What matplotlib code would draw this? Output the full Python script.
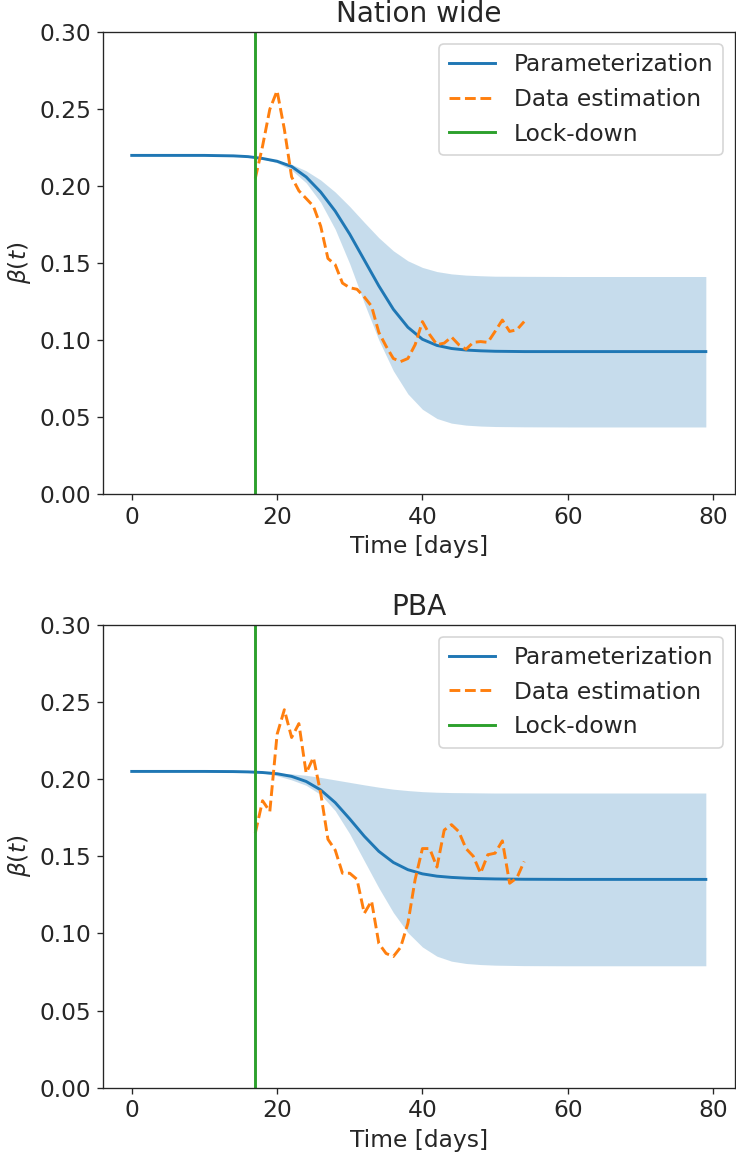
import numpy as np
import matplotlib
matplotlib.use('Agg')
import matplotlib.pyplot as plt

# Datos
lockdown_day = 17

# Curva parametrizada y banda (dias muestreados)
dias_fit = [0, 10, 14, 16, 18, 20, 22, 24, 26, 28, 30, 32, 34, 36, 38, 40, 42, 44, 46, 48, 50, 54, 60, 70, 79]

nacion_beta = [0.2200, 0.2200, 0.2197, 0.2192, 0.2180, 0.2162, 0.2128, 0.2060, 0.1962, 0.1838, 0.1688,
               0.1520, 0.1352, 0.1200, 0.1083, 0.1005, 0.0965, 0.0945, 0.0935, 0.0930, 0.0927, 0.0925,
               0.0925, 0.0925, 0.0925]
nacion_sup = [0.2200, 0.2200, 0.2197, 0.2192, 0.2182, 0.2167, 0.2142, 0.2100, 0.2040, 0.1962, 0.1868,
              0.1765, 0.1665, 0.1580, 0.1515, 0.1472, 0.1445, 0.1430, 0.1422, 0.1418, 0.1415, 0.1414,
              0.1413, 0.1413, 0.1413]
nacion_inf = [0.2200, 0.2200, 0.2197, 0.2190, 0.2177, 0.2152, 0.2105, 0.2022, 0.1895, 0.1720, 0.1495,
              0.1240, 0.1000, 0.0800, 0.0650, 0.0550, 0.0490, 0.0460, 0.0447, 0.0441, 0.0438, 0.0436,
              0.0435, 0.0435, 0.0435]

pba_beta = [0.2050, 0.2050, 0.2049, 0.2047, 0.2043, 0.2035, 0.2018, 0.1985, 0.1930, 0.1848, 0.1742,
            0.1630, 0.1532, 0.1460, 0.1413, 0.1386, 0.1371, 0.1363, 0.1358, 0.1355, 0.1353, 0.1351,
            0.1350, 0.1350, 0.1350]
pba_sup = [0.2050, 0.2050, 0.2049, 0.2047, 0.2044, 0.2040, 0.2034, 0.2025, 0.2011, 0.1995, 0.1979,
           0.1963, 0.1948, 0.1935, 0.1926, 0.1919, 0.1915, 0.1913, 0.1912, 0.1911, 0.1910, 0.1910,
           0.1910, 0.1910, 0.1910]
pba_inf = [0.2050, 0.2050, 0.2049, 0.2046, 0.2040, 0.2022, 0.1995, 0.1960, 0.1900, 0.1795, 0.1645,
           0.1470, 0.1295, 0.1135, 0.1005, 0.0912, 0.0852, 0.0820, 0.0805, 0.0798, 0.0794, 0.0791,
           0.0790, 0.0790, 0.0790]

# Estimacion desde los datos (dias 17 a 54)
dias_datos = list(range(17, 55))
nacion_datos = [0.205, 0.226, 0.250, 0.262, 0.237, 0.206, 0.197, 0.192, 0.187, 0.174, 0.153, 0.149,
                0.137, 0.134, 0.133, 0.128, 0.122, 0.105, 0.096, 0.088, 0.086, 0.088, 0.097, 0.112,
                0.1035, 0.097, 0.098, 0.102, 0.097, 0.094, 0.0985, 0.099, 0.0985, 0.1056, 0.113,
                0.1056, 0.1067, 0.112]
pba_datos = [0.165, 0.186, 0.179, 0.229, 0.245, 0.227, 0.236, 0.204, 0.214, 0.191, 0.161, 0.154,
             0.139, 0.139, 0.135, 0.113, 0.121, 0.0935, 0.087, 0.085, 0.091, 0.1065, 0.135, 0.155,
             0.155, 0.143, 0.167, 0.1705, 0.166, 0.155, 0.150, 0.139, 0.151, 0.152, 0.160, 0.1325,
             0.136, 0.1466]

dias_ticks = [0, 20, 40, 60, 80]

paneles = [
    ('Nation wide', nacion_beta, nacion_sup, nacion_inf, nacion_datos),
    ('PBA', pba_beta, pba_sup, pba_inf, pba_datos),
]

plt.rcParams['font.size'] = 14
plt.rcParams['text.color'] = '#262626'
plt.rcParams['axes.labelcolor'] = '#262626'
plt.rcParams['axes.edgecolor'] = '#262626'
plt.rcParams['xtick.color'] = '#262626'
plt.rcParams['ytick.color'] = '#262626'

fig = plt.figure(figsize=(736 / 120, 1154 / 120), dpi=120)
posiciones = [[0.140, 0.572, 0.858, 0.400], [0.140, 0.0575, 0.858, 0.401]]

for pos, (titulo, beta, sup, inf, datos) in zip(posiciones, paneles):
    ax = fig.add_axes(pos)
    ax.plot(dias_fit, beta, color='tab:blue', lw=1.75, label='Parameterization')
    ax.fill_between(dias_fit, inf, sup, color='tab:blue', alpha=0.25, linewidth=0)
    ax.plot(dias_datos, datos, '--', color='tab:orange', lw=1.75, label='Data estimation')
    ax.axvline(lockdown_day, color='tab:green', lw=1.75, label='Lock-down')
    ax.set_ylim(0, 0.30)
    ax.set_xticks(dias_ticks)
    ax.set_title(titulo)
    ax.set_xlabel('Time [days]')
    ax.set_ylabel(r'$\beta(t)$')
    ax.legend(loc='upper right')

fig.savefig('out.png', dpi=120)
